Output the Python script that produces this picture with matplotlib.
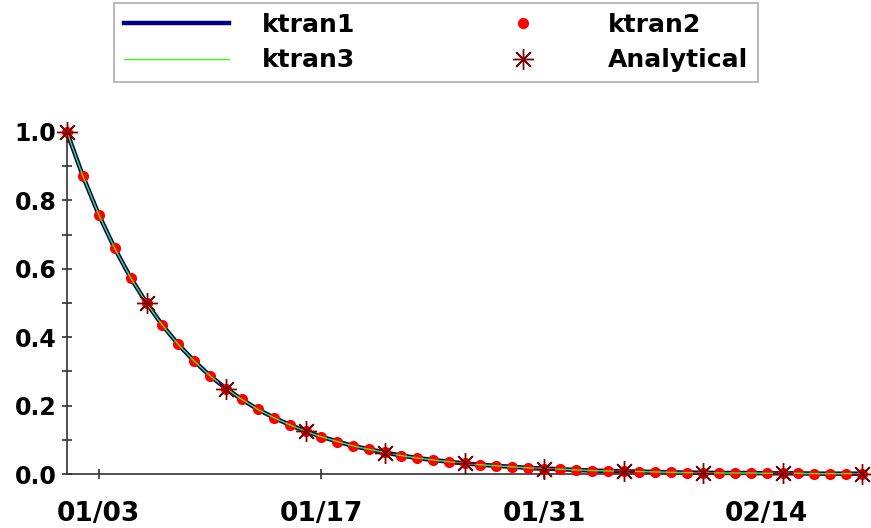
import matplotlib
matplotlib.use("Agg")
import matplotlib.pyplot as plt
import matplotlib.dates as mdates
from matplotlib.ticker import MultipleLocator
import pandas as pd

# data (daily, 01/01 to 02/20)
start_date = "2021-01-01"
ktran1 = [1.000, 0.871, 0.758, 0.660, 0.574, 0.500, 0.435, 0.379, 0.330, 0.287,
          0.250, 0.218, 0.189, 0.165, 0.144, 0.125, 0.109, 0.095, 0.082, 0.072,
          0.063, 0.054, 0.047, 0.041, 0.036, 0.031, 0.027, 0.024, 0.021, 0.018,
          0.016, 0.014, 0.012, 0.010, 0.009, 0.008, 0.007, 0.006, 0.005, 0.004,
          0.004, 0.003, 0.003, 0.003, 0.002, 0.002, 0.002, 0.001, 0.001, 0.001,
          0.001]
ktran2 = list(ktran1)
ktran3 = list(ktran1)
# analytical solution every 5 days
analytical = [1.0, 0.5, 0.25, 0.125, 0.0625, 0.03125, 0.0156, 0.0078, 0.0039, 0.002, 0.001]
tick_dates = ["2021-01-03", "2021-01-17", "2021-01-31", "2021-02-14"]

dates = pd.date_range(start_date, periods=len(ktran1), freq="D")
dates_an = pd.date_range(start_date, periods=len(analytical), freq="5D")

plt.rcParams["font.family"] = "DejaVu Sans"
plt.rcParams["font.weight"] = "bold"

fig = plt.figure(figsize=(8.71, 5.28), dpi=100)
ax = fig.add_axes([67 / 871, 1 - 474 / 528, (862 - 67) / 871, (474 - 132) / 528])

l1, = ax.plot(dates, ktran1, color="#000080", lw=3.2, zorder=2, label="ktran1")
l2, = ax.plot(dates, ktran2, ls="none", marker="o", ms=7, color="#ff0000",
              mec="#ff0000", zorder=3, label="ktran2")
l3, = ax.plot(dates, ktran3, color="#44ee11", lw=1.0, zorder=4, label="ktran3")
l4, = ax.plot(dates_an, analytical, ls="none", marker=(8, 2, 0), ms=15, mew=1.0,
              color="#800000", zorder=5, clip_on=False, label="Analytical")
for l in (l1, l2, l3):
    l.set_clip_on(False)

ax.set_xlim(dates[0], dates[-1])
ax.set_ylim(0, 1.0)
ax.set_xticks(pd.to_datetime(tick_dates))
ax.xaxis.set_major_formatter(mdates.DateFormatter("%m/%d"))
ax.yaxis.set_major_locator(MultipleLocator(0.2))
ax.yaxis.set_minor_locator(MultipleLocator(0.1))
ax.yaxis.set_major_formatter(plt.FormatStrFormatter("%.1f"))

for s in ("top", "right"):
    ax.spines[s].set_visible(False)
for s in ("left", "bottom"):
    ax.spines[s].set_color("#333333")
    ax.spines[s].set_linewidth(1.2)

ax.tick_params(axis="y", which="both", direction="inout", length=7, width=1.2,
               color="#333333", labelsize=17, pad=4)
ax.tick_params(axis="x", direction="inout", length=7, width=1.2,
               color="#333333", labelsize=19, pad=16)

leg = fig.legend(handles=[l1, l3, l2, l4], ncol=2, loc="upper center",
                 bbox_to_anchor=(0.5006, 0.994), fontsize=18, frameon=True,
                 fancybox=False, handlelength=4.2, handletextpad=1.3,
                 columnspacing=4.6, labelspacing=0.45, borderpad=0.4,
                 borderaxespad=0)
leg.get_frame().set_edgecolor("#aaaaaa")
leg.get_frame().set_linewidth(1.5)
for h in leg.legend_handles:
    h.set_clip_on(False)

fig.savefig("out.png", dpi=100)
